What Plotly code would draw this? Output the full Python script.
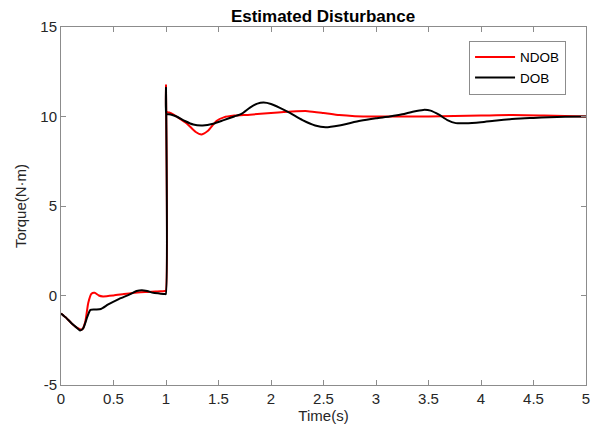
import plotly.graph_objects as go

# NDOB (red) estimated disturbance
ndob_t = [0.00, 0.05, 0.10, 0.15, 0.20, 0.23, 0.26, 0.29, 0.32, 0.36, 0.40, 0.50, 0.60,
          0.70, 0.80, 0.90, 0.96, 0.99, 0.998, 1.00, 1.002, 1.01, 1.03, 1.06, 1.10, 1.20,
          1.28, 1.34, 1.40, 1.48, 1.55, 1.65, 1.80, 2.00, 2.20, 2.35, 2.50, 2.65, 2.80,
          3.00, 3.50, 4.00, 4.30, 4.60, 5.00]
ndob_v = [-1.0, -1.25, -1.55, -1.8, -1.9, -1.5, -0.4, 0.1, 0.15, 0.0, -0.05, 0.0, 0.08,
          0.15, 0.2, 0.22, 0.24, 0.25, 0.25, 11.75, 10.3, 10.25, 10.22, 10.15, 10.0, 9.6,
          9.15, 9.0, 9.2, 9.75, 9.95, 10.05, 10.1, 10.2, 10.28, 10.3, 10.2, 10.08, 10.02,
          10.0, 10.0, 10.05, 10.08, 10.05, 10.0]

# DOB (black) estimated disturbance
dob_t = [0.00, 0.05, 0.10, 0.15, 0.18, 0.21, 0.25, 0.28, 0.33, 0.38, 0.45, 0.55, 0.65,
         0.72, 0.77, 0.82, 0.88, 0.95, 0.99, 0.998, 1.00, 1.002, 1.01, 1.03, 1.06, 1.10,
         1.18, 1.26, 1.35, 1.45, 1.55, 1.65, 1.72, 1.80, 1.87, 1.93, 2.00, 2.08, 2.18,
         2.30, 2.42, 2.52, 2.65, 2.85, 3.00, 3.13, 3.25, 3.35, 3.45, 3.52, 3.60, 3.68,
         3.76, 3.85, 4.00, 4.15, 4.33, 4.50, 4.65, 4.80, 5.00]
dob_v = [-1.0, -1.25, -1.55, -1.8, -1.95, -1.85, -1.2, -0.8, -0.78, -0.75, -0.5, -0.2, 0.05,
         0.25, 0.3, 0.25, 0.15, 0.1, 0.08, 0.08, 11.6, 10.15, 10.13, 10.12, 10.08, 10.0,
         9.75, 9.55, 9.5, 9.6, 9.8, 10.0, 10.15, 10.5, 10.72, 10.78, 10.7, 10.5, 10.2,
         9.8, 9.5, 9.4, 9.5, 9.76, 9.9, 10.0, 10.12, 10.27, 10.37, 10.33, 10.1, 9.8,
         9.63, 9.62, 9.68, 9.78, 9.87, 9.92, 9.96, 9.99, 10.0]

x_ticks = [0, 0.5, 1, 1.5, 2, 2.5, 3, 3.5, 4, 4.5, 5]
y_ticks = [-5, 0, 5, 10, 15]

FONT = "Liberation Sans, Arial, sans-serif"

fig = go.Figure()
fig.add_trace(go.Scatter(x=ndob_t, y=ndob_v, mode="lines", name="NDOB",
                         line=dict(color="#ff0000", width=2, shape="spline", smoothing=0.6)))
fig.add_trace(go.Scatter(x=dob_t, y=dob_v, mode="lines", name="DOB",
                         line=dict(color="#000000", width=2, shape="spline", smoothing=0.6)))

axis_common = dict(showgrid=False, zeroline=False, showline=True, linecolor="#8c8c8c",
                   linewidth=1, mirror="ticks", ticks="inside", ticklen=5,
                   tickcolor="#8c8c8c", automargin=False,
                   tickfont=dict(family=FONT, size=15, color="#262626"))

fig.update_layout(
    width=596, height=429,
    margin=dict(l=61, r=10, t=27, b=44, autoexpand=False),
    paper_bgcolor="white", plot_bgcolor="white",
    title=dict(text="<b>Estimated Disturbance</b>", x=323 / 596, xanchor="center",
               y=0.963, yanchor="middle",
               font=dict(family=FONT, size=17, color="black")),
    xaxis=dict(range=[0, 5], tickvals=x_ticks, ticktext=[str(v) for v in x_ticks],
               title=dict(text="Time(s)", standoff=4,
                          font=dict(family=FONT, size=15, color="#262626")),
               **axis_common),
    yaxis=dict(range=[-5, 15], tickvals=y_ticks, ticktext=[str(v) for v in y_ticks],
               title=dict(text="Torque(N·m)", standoff=10,
                          font=dict(family=FONT, size=15, color="#262626")),
               **axis_common),
    legend=dict(x=0.962, xanchor="right", y=0.962, yanchor="top",
                bordercolor="#8c8c8c", borderwidth=1, bgcolor="white",
                font=dict(family=FONT, size=13.5, color="black"),
                tracegroupgap=0, itemwidth=40),
    showlegend=True,
)

fig.write_html("out.html")
